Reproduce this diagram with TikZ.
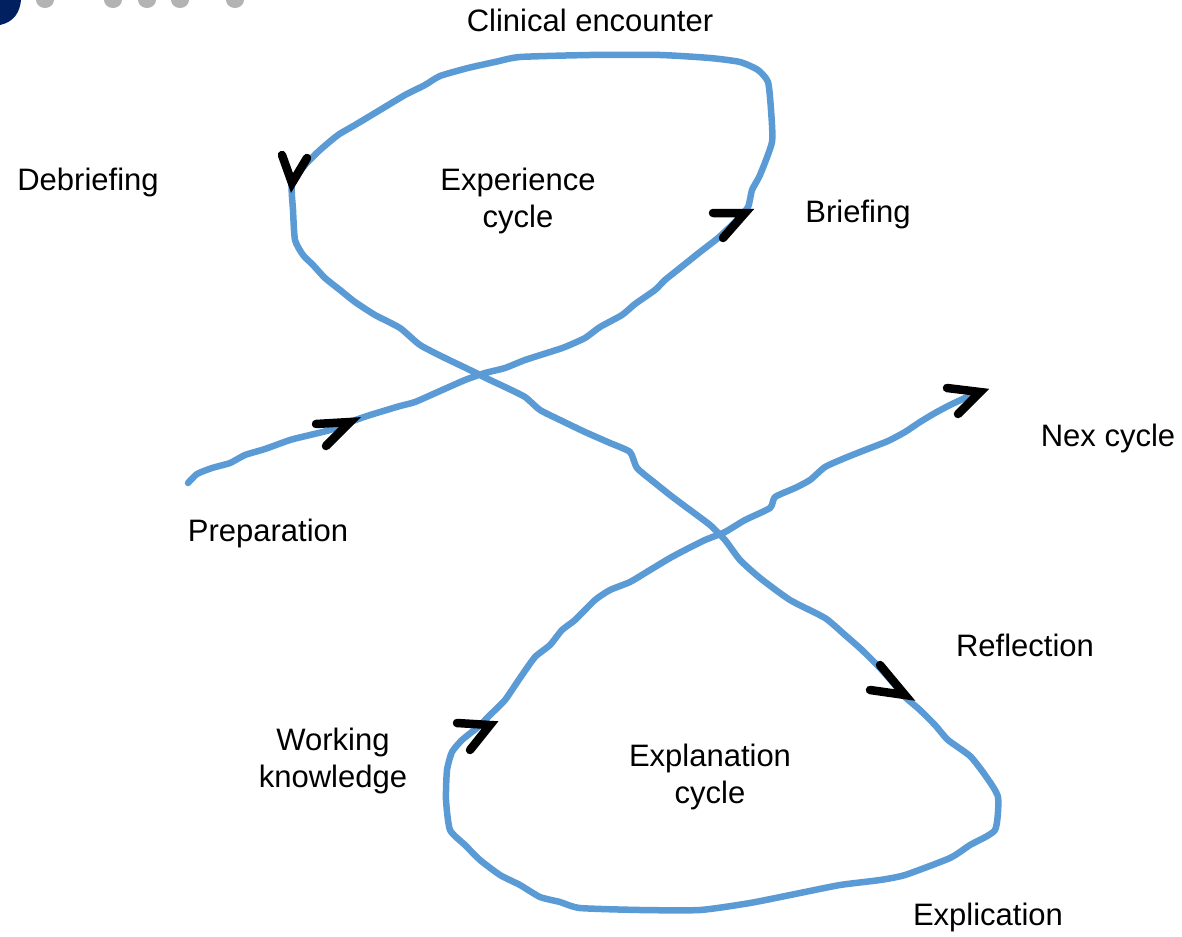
\documentclass[tikz,border=0pt]{standalone}
\usepackage{fontspec}
\setmainfont{Liberation Sans}
\begin{document}
\begin{tikzpicture}[x=1pt,y=-1pt,
  loop/.style={draw={rgb,255:red,91;green,155;blue,213}, line width=6.5pt, line join=round, line cap=round},
  chev/.style={draw=black, line width=8.5pt, line cap=round, line join=miter},
  lbl/.style={font=\fontsize{31}{37}\selectfont, align=center, inner sep=0pt}]
\useasboundingbox (0,0) rectangle (1182,936);
% cropped title fragment
\fill[color={rgb,255:red,0;green,32;blue,96}] (0,0) -- (21,0) .. controls (20,12) and (14,22) .. (0,25) -- cycle;
\foreach \xx in {45,113,147,180,235}
  \fill[gray, opacity=0.6] (\xx,0) ellipse (9pt and 8pt);
% figure-eight path
\draw[loop] plot[smooth, tension=0.35] coordinates {
(188,483) (197,474) (212,468) (230,463) (245,455) (265,449) (290,440) (310,435) (330,430) (350,422)
(367,416) (380,412) (400,406) (415,402) (440,391) (465,380) (485,373) (505,368) (525,360) (550,352)
(565,347) (585,338) (600,327) (622,315) (635,304) (655,290) (665,280) (680,268) (700,252) (718,238)
(735,222) (748,207) (752,190) (760,175) (772,142) (771,110) (768,82) (758,70) (740,62) (710,58)
(660,55) (590,55) (520,57) (495,62) (468,68) (440,76) (425,85) (405,95) (380,110) (355,125)
(338,135) (320,150) (305,165) (292,183) (293,210) (295,240) (303,255) (313,265) (325,278) (340,290)
(355,302) (375,315) (400,328) (420,345) (445,358) (470,370) (490,380) (505,387) (525,397) (540,410)
(560,420) (585,432) (610,443) (630,452) (637,468) (655,483) (670,495) (690,510) (710,525) (725,540)
(740,560) (760,578) (790,600) (825,618) (845,635) (862,650) (880,668) (895,685) (905,697) (920,710)
(935,725) (948,740) (970,756) (985,775) (998,797) (995,830) (970,845) (950,858) (905,875) (880,880)
(840,885) (800,893) (750,903) (700,910) (640,910) (580,908) (560,902) (540,897) (520,885) (500,875)
(480,860) (465,845) (450,830) (446,800) (447,770) (452,752) (462,740) (478,727) (490,715) (505,700)
(520,678) (535,657) (550,645) (562,630) (575,620) (595,600) (610,590) (630,582) (650,570) (670,558)
(685,550) (705,540) (725,532) (745,520) (770,508) (775,497) (795,488) (810,480) (825,467) (845,458)
(865,450) (888,441) (905,432) (920,422) (935,413) (950,405) (965,398) (978,392)};
% arrowheads
\draw[chev] (316,424) -- (350,422) -- (326,446);
\draw[chev] (713,213) -- (745,213) -- (723,238);
\draw[chev] (282,155) -- (292,183) -- (307,158);
\draw[chev] (870,690) -- (905,695) -- (880,665);
\draw[chev] (457,723) -- (490,725) -- (470,750);
\draw[chev] (947,388) -- (980,392) -- (958,414);
% labels
\node[lbl] (clin) at (590,20) {Clinical encounter};
\node[lbl] (debr) at (88,182) {Debriefing};
\node[lbl] (exp) at (518,201) {Experience\\cycle};
\node[lbl] (brief) at (858,214) {Briefing};
\node[lbl] (next) at (1108,438) {Nex cycle};
\node[lbl] (prep) at (268,533) {Preparation};
\node[lbl] (refl) at (1025,645) {Reflection};
\node[lbl] (work) at (333,761) {Working\\knowledge};
\node[lbl] (expl) at (710,777) {Explanation\\cycle};
\node[lbl] (explic) at (988,917) {Explication};
\end{tikzpicture}
\end{document}
